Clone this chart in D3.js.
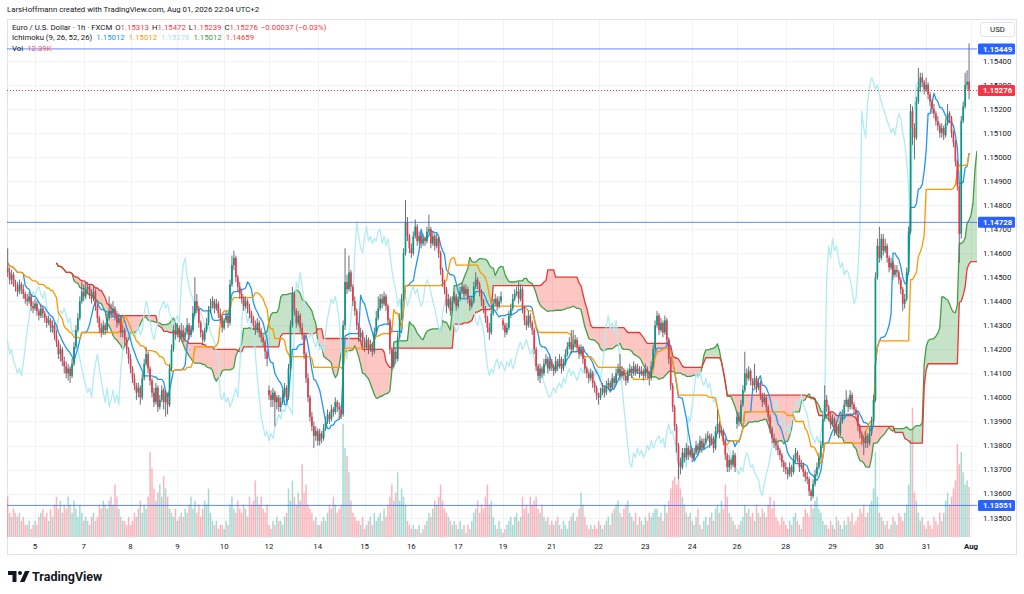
<!DOCTYPE html>
<html>
<head>
<meta charset="utf-8">
<script src="https://cdn.jsdelivr.net/npm/d3@7"></script>
<style>
  body { margin: 0; background: #fff; }
  svg { display: block; font-family: Roboto, "Liberation Sans", sans-serif; }
</style>
</head>
<body>
<svg id="chart" width="1024" height="594"></svg>
<script>
// EUR/USD 1h bars, Fri 3 Jul 09:00 .. Fri 31 Jul 22:00 (UTC+2), weekends skipped.
// Prices are given in pips above 1.1000 (452 -> 1.1452).
const opens = [
  454,452,449,451,447,446,444,447,445,443, 441,440,442,438,437,439,436,434,437,435,
  433,431,432,429,430,426,423,418,420,415, 413,410,412,409,414,421,428,433,440,444,
  442,445,446,443,441,444,438,433,429,427, 430,428,433,436,435,437,434,431,433,427,
  428,424,420,416,412,408,405,402,404,400, 408,414,418,412,407,402,398,404,396,399,
  403,398,401,397,412,420,428,426,429,425, 428,425,427,430,426,428,435,440,437,431,
  427,424,428,431,436,438,440,437,439,435, 433,429,432,434,431,447,455,458,450,446,
  443,441,438,440,437,435,433,430,428,431, 427,425,423,419,403,401,399,402,398,400,
  396,398,401,404,400,412,430,443,436,431, 434,429,426,418,408,400,392,388,384,386,
  382,385,383,387,390,393,391,395,394,398, 396,395,393,430,448,445,452,446,440,436,
  430,425,427,423,421,424,420,422,419,427, 433,437,441,439,442,438,432,420,413,419,
  416,425,433,441,460,473,467,462,460,467, 471,465,467,464,466,465,469,470,464,467,
  463,466,460,453,448,445,438,441,436,440, 442,438,441,444,446,443,445,441,438,440,
  446,449,447,444,440,437,433,429,427,435, 439,441,438,440,432,430,427,429,434,437,
  441,443,444,441,445,437,432,430,434,431, 428,420,413,409,412,410,414,416,412,415,
  413,411,415,413,416,412,414,418,421,423, 420,422,424,421,418,420,416,412,410,408,
  410,406,404,401,400,402,404,402,405,406, 404,408,406,410,412,409,411,409,407,410,
  412,410,413,411,412,410,411,409,412,410, 408,413,420,430,434,428,431,427,432,424,
  416,405,396,388,380,373,371,377,375,379, 376,378,375,377,380,378,382,379,381,383,
  384,381,383,379,386,389,385,386,382,376, 371,374,372,376,389,392,390,397,403,410,
  408,411,407,405,408,404,406,401,398,400, 396,392,387,383,381,380,378,376,373,371,
  370,368,371,369,374,377,375,371,372,369, 367,366,361,359,364,368,371,375,380,391,
  399,396,392,389,391,386,388,385,390,393, 397,399,396,401,397,395,393,388,385,383,
  381,384,381,385,390,399,450,463,458,466, 461,463,458,454,456,451,453,452,449,445,
  439,441,452,469,519,512,508,523,529,533, 531,528,530,526,523,520,518,515,513,510,
  512,509,514,518,516,510,506,498,488,468, 515,521,530,531.3
];
const highs = [
  462,454,453,452,449,448,449,448,447,444, 443,444,443,440,441,440,437,439,438,436,
  434,434,433,432,431,428,424,422,421,417, 415,414,413,416,423,430,435,442,448,447,
  448,448,447,445,446,445,439,434,431,432, 431,435,442,439,440,438,436,435,434,430,
  429,425,421,418,413,410,406,406,405,410, 416,421,419,413,408,404,406,405,401,405,
  404,403,402,414,422,430,431,431,430,431, 430,429,433,431,430,438,450,443,438,432,
  428,429,433,438,441,442,441,441,440,437, 434,433,436,435,449,459,461,459,451,448,
  445,442,442,441,439,436,434,432,433,432, 429,426,424,420,405,403,404,403,401,401,
  400,403,406,405,414,432,446,444,437,436, 435,431,427,419,410,401,394,390,388,387,
  387,386,389,392,395,394,397,396,400,399, 398,397,432,462,451,459,453,447,442,437,
  431,429,428,425,426,425,424,423,429,436, 442,443,443,444,443,439,433,421,421,420,
  427,435,443,462,482,475,468,464,469,474, 472,469,468,468,467,471,476,471,469,468,
  468,467,461,454,449,446,443,442,442,444, 443,442,446,448,447,447,446,442,442,448,
  452,450,448,445,441,438,434,431,437,441, 443,442,442,444,433,431,431,436,439,443,
  445,446,448,447,446,438,434,436,435,432, 429,421,414,414,413,416,418,417,417,416,
  414,417,416,418,417,416,420,423,425,428, 428,426,425,422,422,421,417,413,411,412,
  411,407,405,402,404,406,405,407,408,407, 410,409,412,414,418,413,412,410,412,414,
  413,415,414,414,413,413,412,414,413,411, 415,422,432,436,435,433,432,434,433,425,
  417,406,397,389,381,375,379,379,381,380, 380,379,379,382,381,384,383,383,385,386,
  385,385,384,388,395,390,388,387,383,377, 376,375,378,377,394,394,399,405,419,412,
  413,412,408,414,409,408,407,402,402,401, 397,393,388,385,383,382,379,377,374,373,
  371,373,372,376,379,378,376,374,373,370, 369,367,362,366,370,373,377,382,393,405,
  401,397,394,393,392,390,389,392,395,399, 403,400,403,402,398,396,394,389,386,384,
  386,385,387,392,401,452,466,471,468,468, 466,464,459,458,457,455,455,453,450,446,
  443,454,471,522,521,514,525,537,535,535, 532,533,531,527,524,522,519,517,514,514,
  513,516,522,519,517,511,507,499,489,517, 523,535,536,547.2
];
const lows = [
  450,447,447,446,444,442,443,443,441,439, 438,439,436,435,436,434,432,433,433,431,
  429,430,427,427,424,421,416,415,413,410, 408,407,406,408,413,420,427,432,439,440,
  441,443,441,439,440,436,431,427,425,426, 426,427,432,433,434,432,429,430,425,425,
  422,418,414,410,406,403,399,400,397,399, 407,413,410,405,400,396,397,394,395,398,
  395,392,393,396,411,419,424,425,423,424, 423,424,426,424,425,427,434,435,429,425,
  422,423,427,430,435,437,435,436,433,431, 427,428,431,429,430,446,453,448,444,441,
  439,436,437,435,433,431,428,426,427,425, 423,421,416,413,399,396,396,388,395,394,
  394,397,400,398,399,411,429,434,429,430, 427,424,416,406,398,390,386,379,382,380,
  380,381,382,386,389,389,390,392,393,394, 391,391,392,428,443,444,444,438,434,428,
  423,423,421,419,420,418,419,417,418,426, 432,436,437,438,436,430,418,411,412,414,
  415,424,432,440,459,465,460,458,459,466, 463,464,462,463,463,464,468,462,463,461,
  462,458,451,446,443,435,437,434,435,439, 436,437,440,443,441,442,439,436,437,439,
  445,445,442,438,435,431,427,424,426,434, 438,436,437,439,428,425,426,428,433,436,
  440,442,439,440,435,430,428,429,429,426, 418,411,407,406,408,409,413,410,411,411,
  409,410,411,412,410,411,413,417,420,418, 419,421,419,416,417,414,410,408,406,407,
  404,402,399,397,399,401,400,401,403,402, 403,404,405,409,407,408,407,405,406,409,
  408,409,409,410,408,409,407,408,408,405, 407,412,419,429,426,427,425,426,422,414,
  403,394,386,377,366,368,370,373,374,374, 375,373,374,376,376,377,377,378,380,382,
  379,380,377,378,385,383,384,380,374,369, 369,370,371,369,387,388,389,396,402,405,
  407,405,403,404,402,403,399,396,397,394, 390,385,381,379,378,376,374,371,369,368,
  366,367,367,368,373,373,369,370,367,365, 364,359,357,358,363,367,370,374,379,390,
  394,390,387,388,384,385,383,384,389,392, 396,394,395,395,393,391,386,383,380,376,
  379,379,380,384,389,398,449,456,457,459, 460,456,452,453,449,450,450,447,443,436,
  437,440,451,468,505,499,507,522,527,529, 526,527,524,521,518,516,513,511,508,508,
  507,508,513,514,508,504,496,486,456,466, 514,520,528,523.9
];
const closes = [
  452,449,451,447,446,444,447,445,443,441, 440,442,438,437,439,436,434,437,435,433,
  431,432,429,430,426,423,418,420,415,413, 410,412,409,414,421,428,433,440,444,442,
  445,446,443,441,444,438,433,429,427,430, 428,433,436,435,437,434,431,433,427,428,
  424,420,416,412,408,405,402,404,400,408, 414,418,412,407,402,398,404,396,399,403,
  398,401,397,412,420,428,426,429,425,428, 425,427,430,426,428,435,440,437,431,427,
  424,428,431,436,438,440,437,439,435,433, 429,432,434,431,447,455,458,450,446,443,
  441,438,440,437,435,433,430,428,431,427, 425,423,419,416,401,399,402,398,400,396,
  398,401,404,400,412,430,443,436,431,434, 429,426,418,408,400,392,388,384,386,382,
  385,383,387,390,393,391,395,394,398,396, 395,393,430,448,445,452,446,440,436,430,
  425,427,423,421,424,420,422,419,427,433, 437,441,439,442,438,432,420,413,419,416,
  425,433,441,460,473,467,462,460,467,471, 465,467,464,466,465,469,470,464,467,463,
  466,460,453,448,445,438,441,436,440,442, 438,441,444,446,443,445,441,438,440,446,
  449,447,444,440,437,433,429,427,435,439, 441,438,440,442,430,427,429,434,437,441,
  443,444,441,445,437,432,430,434,431,428, 420,413,409,412,410,414,416,412,415,413,
  411,415,413,416,412,414,418,421,423,420, 422,424,421,418,420,416,412,410,408,410,
  406,404,401,400,402,404,402,405,406,404, 408,406,410,412,409,411,409,407,410,412,
  410,413,411,412,410,411,409,412,410,408, 413,420,430,434,428,431,427,432,424,416,
  405,396,388,380,373,371,377,375,379,376, 378,375,377,380,378,382,379,381,383,384,
  381,383,379,386,389,385,386,382,376,371, 374,372,376,371,392,390,397,403,410,408,
  411,407,405,408,404,406,401,398,400,396, 392,387,383,381,380,378,376,373,371,370,
  368,371,369,374,377,375,371,372,369,367, 366,361,359,364,368,371,375,380,391,399,
  396,392,389,391,386,388,385,390,393,397, 399,396,401,397,395,393,388,385,383,381,
  384,381,385,390,399,450,463,458,466,461, 463,458,454,456,451,453,452,449,445,439,
  441,452,469,519,512,508,523,529,533,531, 528,530,526,523,520,518,515,513,510,512,
  509,514,518,516,510,506,498,488,468,515, 521,530,531.3,527.6
];
// volume in thousands
const volumes = [
  10,6,5,7,6,5,6,4,5,3, 3,4,2,3,4,3,5,6,7,5, 6,4,7,5,8,10,7,9,6,8, 7,10,8,6,9,7,5,8,6,4,
  5,4,3,5,6,4,5,8,7,9, 8,7,9,10,8,13,10,7,5,4, 4,3,5,3,4,6,5,7,9,6, 8,7,10,21,17,12,9,11,13,10,
  15,12,10,7,6,5,7,4,5,6, 5,7,6,8,10,7,9,6,8,5, 7,9,8,12,6,4,3,4,2,3, 3,2,4,3,8,10,7,6,9,7,
  6,8,7,5,10,8,9,14,10,8, 10,7,6,8,3,2,4,3,5,4, 4,3,5,6,12,9,14,10,8,11, 9,18,11,13,8,7,6,4,5,3,
  3,4,5,4,6,8,7,10,8,6, 7,8,28,22,20,16,9,6,5,4, 4,3,5,2,3,4,5,3,6,4, 5,6,4,7,5,8,10,13,9,11,
  16,9,12,10,8,4,3,2,3,2, 2,3,1,2,3,4,6,5,7,9, 8,10,13,9,7,6,5,4,3,4, 3,2,4,2,3,1,3,2,4,6,
  7,9,6,8,7,10,13,8,9,5, 3,2,4,2,1,2,3,4,5,3, 5,6,4,5,10,7,8,6,10,8, 9,10,7,6,8,5,4,5,3,4,
  3,4,5,3,2,4,3,2,4,5, 6,4,5,7,11,8,5,3,2,3, 2,3,2,4,3,2,3,4,5,3, 6,7,8,9,6,5,7,8,9,6,
  5,4,6,3,5,4,3,5,4,6, 5,6,7,7,5,6,4,8,6,9, 12,14,15,13,17,12,10,8,6,5, 6,4,3,5,7,3,2,4,5,3,
  5,6,4,7,8,6,9,7,13,10, 6,5,4,3,2,3,4,5,8,6, 7,5,6,4,8,6,5,7,6,5, 8,10,7,9,5,4,3,5,4,3,
  2,4,3,5,6,4,3,2,5,7, 6,5,8,7,9,10,7,6,4,3, 3,2,4,3,2,5,4,3,2,4, 3,5,4,6,3,4,5,7,6,8,
  5,6,8,9,12,21,10,6,5,4, 3,4,2,3,5,4,3,6,5,4, 6,8,13,24,32,11,9,6,4,5, 3,2,4,3,2,5,4,3,6,4,
  6,9,11,8,10,12,14,23,18,21, 16,13,14,12.39
];

// time axis labels and the bar index they sit on
const dayLabels = ["5","7","8","9","10","12","14","15","16","17","19","21","22","23","24","26","28","29","30","31","Aug"];
const dayIndex  = [14,39,63,87,111,134,159,183,207,231,254,279,303,327,351,374,399,423,447,471,494];

// drawn horizontal lines and the last price
const levelLines = [1.15449, 1.14728, 1.13551];
const lastPrice = 1.15276;
const priceTicks = [1.135,1.136,1.137,1.138,1.139,1.140,1.141,1.142,1.143,1.144,1.145,
                    1.146,1.147,1.148,1.149,1.150,1.151,1.152,1.153,1.154];

const n = closes.length;
const px = v => 1.1 + v / 10000;
const bars = d3.range(n).map(k => ({
  k: k, o: px(opens[k]), h: px(highs[k]), l: px(lows[k]), c: px(closes[k]), v: volumes[k]
}));

const svg = d3.select("#chart");
const plot = {left: 7, right: 977, top: 20, bottom: 538};

const x = d3.scaleLinear().domain([0, 493]).range([7.7, 969.05]);
const y = d3.scaleLinear().domain([1.135, 1.154]).range([517.7, 60.7]);
const yVol = d3.scaleLinear().domain([0, 32]).range([537, 407.7]);

const UP = "#089981", DOWN = "#f23645", TEXT = "#131722";

// ICHIMOKU (9, 26, 52, 26)
function donchian(k, len) {
  const s = Math.max(0, k - len + 1);
  let hi = -Infinity, lo = Infinity;
  for (let j = s; j <= k; j++) {
    hi = Math.max(hi, bars[j].h);
    lo = Math.min(lo, bars[j].l);
  }
  return (hi + lo) / 2;
}
const tenkan = bars.map(d => ({k: d.k, p: donchian(d.k, 9)}));
const kijun = bars.map(d => ({k: d.k, p: donchian(d.k, 26)}));
const lead = bars.map(d => ({
  k: d.k + 25,
  a: (tenkan[d.k].p + kijun[d.k].p) / 2,
  b: donchian(d.k, 52)
}));
const chikou = bars.map(d => ({k: d.k - 25, p: d.c}));

// FRAME
svg.append("text")
  .attr("x", 7).attr("y", 12)
  .style("font-size", "7.8px").attr("fill", TEXT)
  .text("LarsHoffmann created with TradingView.com, Aug 01, 2026 22:04 UTC+2");

svg.append("rect")
  .attr("x", 7.5).attr("y", 19.5).attr("width", 1009).attr("height", 535)
  .attr("fill", "none").attr("stroke", "#e0e3eb");

svg.append("defs").append("clipPath").attr("id", "plotClip")
  .append("rect")
  .attr("x", plot.left).attr("y", plot.top)
  .attr("width", plot.right - plot.left).attr("height", plot.bottom - plot.top);

// grid
const grid = svg.append("g").attr("stroke", "#f0f3fa").attr("stroke-width", 1);
grid.selectAll(".hg").data(priceTicks).enter().append("line")
  .attr("x1", plot.left).attr("x2", plot.right)
  .attr("y1", d => Math.round(y(d)) + 0.5).attr("y2", d => Math.round(y(d)) + 0.5);
grid.selectAll(".vg").data(dayIndex).enter().append("line")
  .attr("x1", d => Math.round(x(d)) + 0.5).attr("x2", d => Math.round(x(d)) + 0.5)
  .attr("y1", plot.top).attr("y2", plot.bottom);

const g = svg.append("g").attr("clip-path", "url(#plotClip)");

// VOLUME
g.append("g").selectAll("rect").data(bars).enter().append("rect")
  .attr("x", d => x(d.k) - 0.75)
  .attr("width", 1.5)
  .attr("y", d => yVol(d.v))
  .attr("height", d => yVol(0) - yVol(d.v))
  .attr("fill", d => d.c >= d.o ? UP : DOWN)
  .attr("fill-opacity", 0.36);

// CLOUD
g.append("path").datum(lead)
  .attr("fill", "rgba(67,160,71,0.3)")
  .attr("d", d3.area().x(d => x(d.k)).y0(d => y(d.b)).y1(d => y(Math.max(d.a, d.b))));
g.append("path").datum(lead)
  .attr("fill", "rgba(244,67,54,0.3)")
  .attr("d", d3.area().x(d => x(d.k)).y0(d => y(d.a)).y1(d => y(Math.max(d.a, d.b))));

function drawLine(data, key, color, width) {
  g.append("path").datum(data)
    .attr("fill", "none").attr("stroke", color).attr("stroke-width", width)
    .attr("stroke-linejoin", "round")
    .attr("d", d3.line().x(d => x(d.k)).y(d => y(d[key])));
}
drawLine(lead, "a", "#43a047", 1.3);
drawLine(lead, "b", "#e53935", 1.3);
drawLine(chikou, "p", "#b2ebf2", 1.3);
drawLine(tenkan, "p", "#2196f3", 1.3);
drawLine(kijun, "p", "#ff9800", 1.3);

// CANDLES
const candles = g.append("g");
candles.selectAll("line").data(bars).enter().append("line")
  .attr("x1", d => x(d.k)).attr("x2", d => x(d.k))
  .attr("y1", d => y(d.h)).attr("y2", d => y(d.l))
  .attr("stroke", "#6a6d78").attr("stroke-width", 1);
candles.selectAll("rect").data(bars).enter().append("rect")
  .attr("x", d => x(d.k) - 0.85)
  .attr("width", 1.7)
  .attr("y", d => y(Math.max(d.o, d.c)))
  .attr("height", d => Math.max(0.8, Math.abs(y(d.o) - y(d.c))))
  .attr("fill", d => d.c >= d.o ? UP : DOWN);

// horizontal lines and last price
g.selectAll(".lvl").data(levelLines).enter().append("line")
  .attr("x1", plot.left).attr("x2", plot.right)
  .attr("y1", d => y(d)).attr("y2", d => y(d))
  .attr("stroke", "#2962ff").attr("stroke-opacity", 0.75).attr("stroke-width", 1);
g.append("line")
  .attr("x1", plot.left).attr("x2", plot.right)
  .attr("y1", y(lastPrice)).attr("y2", y(lastPrice))
  .attr("stroke", DOWN).attr("stroke-width", 1).attr("stroke-dasharray", "1,2");

// PRICE AXIS
svg.append("g").selectAll("text").data(priceTicks).enter().append("text")
  .attr("x", 983).attr("y", d => y(d) + 2.8)
  .style("font-size", "7.8px").attr("fill", TEXT)
  .text(d => d.toFixed(5));

function priceTag(p, color) {
  svg.append("rect")
    .attr("x", 978).attr("y", y(p) - 5.5).attr("width", 37).attr("height", 11)
    .attr("rx", 1.5).attr("fill", color);
  svg.append("text")
    .attr("x", 983).attr("y", y(p) + 2.8)
    .style("font-size", "7.8px").style("font-weight", "bold").attr("fill", "#fff")
    .text(p.toFixed(5));
}
levelLines.forEach(p => priceTag(p, "#2962ff"));
priceTag(lastPrice, DOWN);

svg.append("rect")
  .attr("x", 980.5).attr("y", 22.5).attr("width", 34).attr("height", 14).attr("rx", 2)
  .attr("fill", "#fff").attr("stroke", "#e0e3eb");
svg.append("text")
  .attr("x", 997.5).attr("y", 32.3).attr("text-anchor", "middle")
  .style("font-size", "7.8px").attr("fill", TEXT).text("USD");

// TIME AXIS
svg.append("g").selectAll("text").data(dayLabels).enter().append("text")
  .attr("x", (d, i) => x(dayIndex[i])).attr("y", 548.5)
  .attr("text-anchor", "middle")
  .style("font-size", "7.8px")
  .style("font-weight", d => d === "Aug" ? "bold" : "normal")
  .attr("fill", TEXT)
  .text(d => d);

// LEGEND
function legendLine(yPos, parts) {
  const t = svg.append("text").attr("x", 12).attr("y", yPos).style("font-size", "7.8px");
  parts.forEach(p => {
    t.append("tspan").attr("dx", p[2] || 0).attr("fill", p[1]).text(p[0]);
  });
}
legendLine(29.5, [
  ["Euro / U.S. Dollar \u00b7 1h \u00b7 FXCM", TEXT],
  ["O", TEXT, 3], ["1.15313", DOWN],
  ["H", TEXT, 3], ["1.15472", DOWN],
  ["L", TEXT, 3], ["1.15239", DOWN],
  ["C", TEXT, 3], ["1.15276", DOWN],
  ["\u22120.00037 (\u22120.03%)", DOWN, 3]
]);
legendLine(40, [
  ["Ichimoku (9, 26, 52, 26)", TEXT],
  ["1.15012", "#2196f3", 4],
  ["1.15012", "#ff9800", 4],
  ["1.15276", "#a6e3ee", 4],
  ["1.15012", "#43a047", 4],
  ["1.14659", "#f44336", 4]
]);
legendLine(50.5, [
  ["Vol", TEXT],
  ["12.39K", "#f7525f", 4]
]);

// BRAND
svg.append("path")
  .attr("d", "M8,571 H16.5 V582 H12.5 V575 H8 Z M25,571 H29.5 L24.5,582 H20 Z")
  .attr("fill", TEXT);
svg.append("circle").attr("cx", 20).attr("cy", 573).attr("r", 2).attr("fill", TEXT);
svg.append("text")
  .attr("x", 32).attr("y", 581)
  .style("font-size", "12.5px").style("font-weight", "bold").attr("fill", TEXT)
  .text("TradingView");
</script>
</body>
</html>
